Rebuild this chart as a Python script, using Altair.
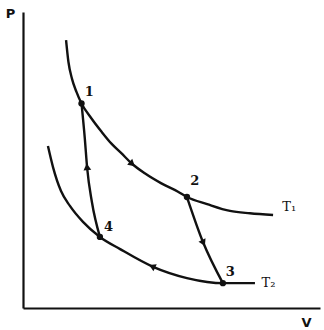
import altair as alt
import pandas as pd

# Isotherm T1 (V, P)
t1_v = [14.5, 15.3, 16.5, 18.0, 19.7, 23.0, 26.4, 29.7, 33.1, 36.5, 41.0, 46.6, 52.2, 55.2, 62.0, 69.7, 76.4, 84.2]
t1_p = [90.5, 83.1, 77.4, 73.0, 69.1, 64.1, 59.6, 55.6, 52.3, 48.9, 45.5, 42.1, 39.3, 37.5, 35.1, 32.8, 32.0, 31.4]
# Isotherm T2
t2_v = [8.4, 10.1, 12.8, 15.8, 20.2, 25.9, 32.7, 43.8, 55.2, 62.0, 67.3, 78.1]
t2_p = [54.7, 47.6, 39.5, 34.5, 29.1, 24.0, 19.9, 13.9, 10.1, 8.8, 8.4, 8.4]
# Adiabat 1-4
a14_v = [19.7, 20.8, 21.6, 23.2, 25.9]
a14_p = [69.1, 57.4, 47.3, 35.8, 24.0]
# Adiabat 2-3
a23_v = [55.2, 60.6, 67.3]
a23_p = [37.5, 22.3, 8.4]

# State points
pt_labels = ["1", "2", "3", "4"]
pt_v = [19.7, 55.2, 67.3, 25.9]
pt_p = [69.1, 37.5, 8.4, 24.0]
lbl_v = [22.3, 57.8, 69.8, 28.8]
lbl_p = [72.9, 42.9, 12.3, 27.4]

# Direction arrows
arr_v = [36.5, 21.6, 60.6, 43.8]
arr_p = [48.9, 47.3, 22.3, 13.9]
arr_ang = [131, 354, 154, 295]

# Curve labels
cur_labels = ["T\u2081", "T\u2082"]
cur_v = [87.3, 80.3]
cur_p = [34.0, 8.6]

rows = []
for name, vs, ps in [("T1", t1_v, t1_p), ("T2", t2_v, t2_p), ("A14", a14_v, a14_p), ("A23", a23_v, a23_p)]:
    for i, (v, p) in enumerate(zip(vs, ps)):
        rows.append({"curve": name, "i": i, "V": v, "P": p})
lines_df = pd.DataFrame(rows)
pts_df = pd.DataFrame({"V": pt_v, "P": pt_p})
lbl_df = pd.DataFrame({"V": lbl_v, "P": lbl_p, "t": pt_labels})
arr_df = pd.DataFrame({"V": arr_v, "P": arr_p, "a": arr_ang})
cur_df = pd.DataFrame({"V": cur_v, "P": cur_p, "t": cur_labels})

xs = alt.Scale(domain=[0, 100], nice=False, zero=False)
ys = alt.Scale(domain=[0, 100], nice=False, zero=False)
xax = alt.Axis(domain=True, domainColor="#111", domainWidth=2.2, ticks=False, labels=False, grid=False,
               title="V", titleX=283, titleY=14, titleAngle=0, titleFont="DejaVu Sans",
               titleFontSize=13, titleFontWeight="bold", titleColor="#111", titleAlign="center",
               titleBaseline="middle")
yax = alt.Axis(domain=True, domainColor="#111", domainWidth=2.2, ticks=False, labels=False, grid=False,
               title="P", titleX=-13, titleY=1, titleAngle=0, titleFont="DejaVu Sans",
               titleFontSize=13, titleFontWeight="bold", titleColor="#111", titleAlign="center",
               titleBaseline="middle")

lines = alt.Chart(lines_df).mark_line(color="#111", strokeWidth=2.4, interpolate="monotone").encode(
    x=alt.X("V:Q", scale=xs, axis=xax),
    y=alt.Y("P:Q", scale=ys, axis=yax),
    detail="curve:N",
    order="i:Q",
)
points = alt.Chart(pts_df).mark_circle(color="#111", size=40, opacity=1).encode(
    x=alt.X("V:Q", scale=xs), y=alt.Y("P:Q", scale=ys))
arrows = alt.Chart(arr_df).mark_point(shape="triangle", filled=True, color="#111", size=60, opacity=1).encode(
    x=alt.X("V:Q", scale=xs), y=alt.Y("P:Q", scale=ys), angle=alt.Angle("a:Q", scale=None))
labels = alt.Chart(lbl_df).mark_text(font="DejaVu Serif", fontSize=13, fontWeight="bold", color="#111").encode(
    x=alt.X("V:Q", scale=xs), y=alt.Y("P:Q", scale=ys), text="t:N")
curlabels = alt.Chart(cur_df).mark_text(font="DejaVu Serif", fontSize=13, color="#111", align="left").encode(
    x=alt.X("V:Q", scale=xs), y=alt.Y("P:Q", scale=ys), text="t:N")

chart = alt.layer(lines, arrows, points, labels, curlabels).properties(
    width=297, height=296,
    padding={"left": 23, "top": 12, "right": 4, "bottom": 22},
    autosize=alt.AutoSizeParams(type="none"),
    background="white",
).configure_view(stroke=None)

chart.save("out.html", embed_options={"renderer": "svg", "actions": False})
